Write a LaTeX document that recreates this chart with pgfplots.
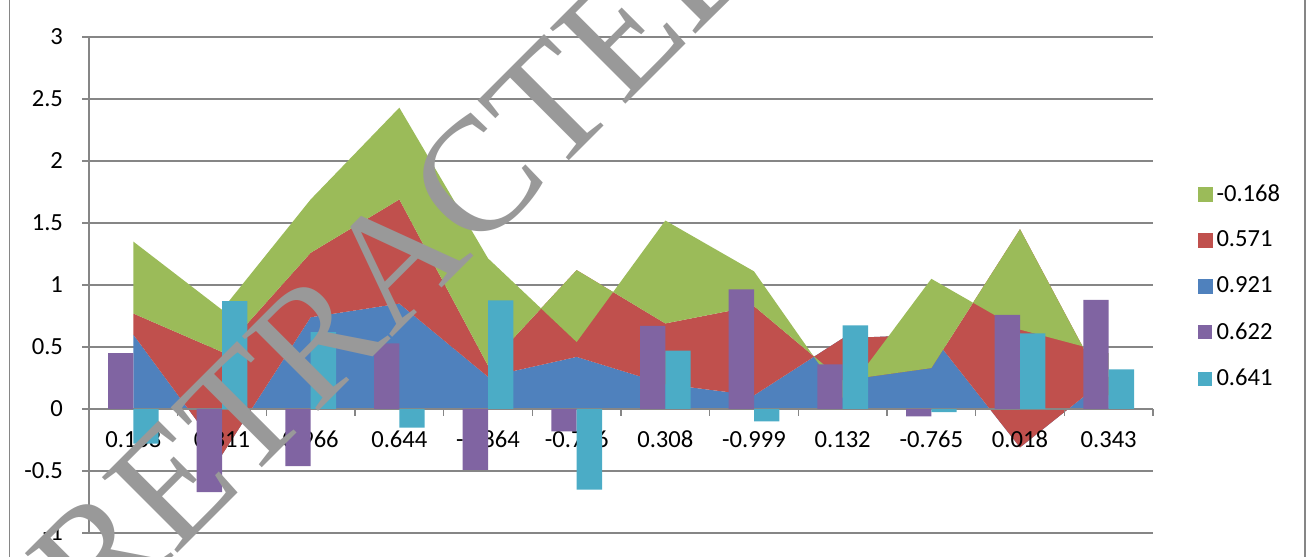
\documentclass[border=0pt]{standalone}
\usepackage{pgfplots}
\pgfplotsset{compat=1.18}
\usepackage{pgfplotstable}
\usepackage{fontspec}
\setmainfont{Carlito}
\newfontfamily\wmfont{Liberation Serif}
\definecolor{blueA}{HTML}{4F81BD}
\definecolor{redA}{HTML}{C0504D}
\definecolor{greenA}{HTML}{9BBB59}
\definecolor{purpleA}{HTML}{8064A2}
\definecolor{cyanA}{HTML}{4BACC6}
\definecolor{axisgray}{HTML}{868686}
\definecolor{wmgray}{HTML}{999999}

% stacked area series (Excel stacked area: 0.921 bottom, 0.571, -0.168 top)
\pgfplotstableread{
x blue red green
0 0.60 0.17 0.58
1 -0.37 0.83 0.34
2 0.74 0.52 0.43
3 0.85 0.84 0.74
4 0.26 0.09 0.865
5 0.42 0.70 -0.58
6 0.20 0.49 0.83
7 0.11 0.72 0.28
8 0.57 -0.34 -0.14
9 0.60 -0.27 0.72
10 -0.31 1.76 -0.81
11 0.26 -0.15 0.34
}\areadata

% clustered columns
\pgfplotstableread{
x purple cyan
0 0.45 -0.28
1 -0.67 0.87
2 -0.46 0.62
3 0.53 -0.15
4 -0.49 0.875
5 -0.18 -0.65
6 0.67 0.47
7 0.965 -0.10
8 0.36 0.675
9 -0.06 -0.025
10 0.76 0.61
11 0.88 0.32
}\bardata

\begin{document}
\begin{tikzpicture}
\useasboundingbox (0,0) rectangle (653.5pt,278.5pt);
\pgfplotsset{common/.style={
  at={(44.5pt,12pt)}, anchor=south west,
  scale only axis, width=532pt, height=248pt,
  xmin=-0.5, xmax=11.5, ymin=-1, ymax=3}}
% areas + gridlines
\begin{axis}[common, stack plots=y, reverse stacked plots=false,
  axis line style={draw=none},
  xtick=\empty, ytick={-1,-0.5,...,3}, yticklabels={},
  major tick length=0pt,
  ymajorgrids, grid style={axisgray, line width=0.75pt}]
\addplot[fill=blueA, draw=none] table[x=x, y=blue] {\areadata} \closedcycle;
\addplot[fill=redA, draw=none] table[x=x, y=red] {\areadata} \closedcycle;
\addplot[fill=greenA, draw=none] table[x=x, y=green] {\areadata} \closedcycle;
\end{axis}
% bars, axes, labels, legend
\begin{axis}[common,
  axis x line=middle, axis y line=left,
  axis line style={-, color=axisgray, line width=0.75pt},
  hide obscured x ticks=false, hide obscured y ticks=false,
  xtick={-0.5,0.5,...,11.5},
  xticklabels={0.168,0.311,0.966,0.644,-0.864,-0.756,0.308,-0.999,0.132,-0.765,0.018,0.343},
  x tick label as interval,
  ytick={-1,-0.5,0,0.5,1,1.5,2,2.5,3},
  yticklabels={-1,-0.5,0,0.5,1,1.5,2,2.5,3},
  tick align=outside, major tick length=3.5pt,
  tick style={color=axisgray, line width=0.75pt},
  tick label style={font=\fontsize{12.3}{14}\selectfont, text=black},
  xticklabel style={yshift=-4pt},
  yticklabel style={xshift=-6pt},
  legend style={at={(1.036,0.497)}, anchor=west, draw=none, fill=none,
    font=\fontsize{12.3}{14}\selectfont, row sep=9.4pt},
  legend cell align=left]
\addlegendimage{legend image code/.code={\fill[greenA] (0pt,-3.5pt) rectangle (7pt,3.5pt);}}
\addlegendentry{-0.168}
\addlegendimage{legend image code/.code={\fill[redA] (0pt,-3.5pt) rectangle (7pt,3.5pt);}}
\addlegendentry{0.571}
\addlegendimage{legend image code/.code={\fill[blueA] (0pt,-3.5pt) rectangle (7pt,3.5pt);}}
\addlegendentry{0.921}
\addplot[ybar, bar width=12.667pt, bar shift=-6.333pt, fill=purpleA, draw=none,
  legend image code/.code={\fill[purpleA] (0pt,-3.5pt) rectangle (7pt,3.5pt);}]
  table[x=x, y=purple] {\bardata};
\addlegendentry{0.622}
\addplot[ybar, bar width=12.667pt, bar shift=6.333pt, fill=cyanA, draw=none,
  legend image code/.code={\fill[cyanA] (0pt,-3.5pt) rectangle (7pt,3.5pt);}]
  table[x=x, y=cyan] {\bardata};
\addlegendentry{0.641}
\end{axis}
\draw[axisgray, line width=0.75pt] (4.75pt,0) -- (4.75pt,278.5pt);
\draw[axisgray, line width=0.75pt] (652.5pt,0) -- (652.5pt,278.5pt);
\node[rotate=45, text=wmgray, inner sep=0pt, font=\fontsize{81.5}{90}\wmfont] at (199.5pt,150.5pt) {RETRACTED};
\end{tikzpicture}
\end{document}
